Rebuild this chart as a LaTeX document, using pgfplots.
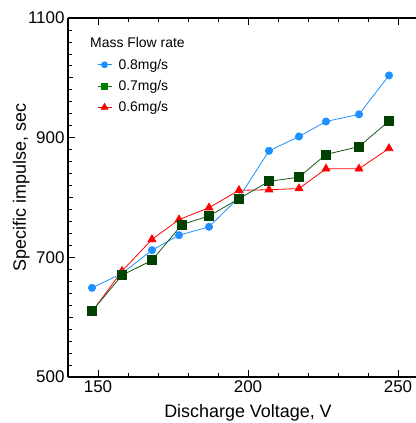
\documentclass[border=0pt]{standalone}
\usepackage{fontspec}
\setmainfont{Liberation Sans}
\usepackage{pgfplots}
\pgfplotsset{compat=1.18}

\definecolor{cblue}{RGB}{30,144,255}
\definecolor{cgreenfill}{RGB}{0,64,0}
\definecolor{cgreenline}{RGB}{20,90,20}
\definecolor{cgreenleg}{RGB}{0,128,0}
\definecolor{cred}{RGB}{255,0,0}

\begin{document}
\begin{tikzpicture}
\begin{axis}[
    at={(0,0)}, anchor=south west,
    scale only axis,
    width=360bp, height=359bp,
    xmin=140, xmax=260,
    ymin=500, ymax=1100,
    axis x line*=box,
    axis y line*=left,
    axis line style={line width=1.2bp},
    xtick={150,200,250},
    minor x tick num=4,
    ytick={500,700,900,1100},
    minor y tick num=9,
    extra y ticks={600,800,1000},
    extra y tick labels={},
    extra y tick style={major tick length=5.5bp},
    major tick length=7bp,
    minor tick length=4bp,
    tick style={black, line width=0.8bp},
    tick align=inside,
    ticklabel style={font=\fontsize{17}{19}\selectfont},
    /pgf/number format/assume math mode=true,
    /pgf/number format/1000 sep={},
    xlabel={Discharge Voltage, V},
    ylabel={Specific impulse, sec},
    every axis x label/.style={at={(axis description cs:0.5,-0.1142)}, anchor=base, font=\fontsize{18}{20}\selectfont},
    every axis y label/.style={at={(axis description cs:-0.117,0.528)}, anchor=base, rotate=90, font=\fontsize{18}{20}\selectfont},
    legend style={
        at={(axis description cs:0.072,0.8975)},
        anchor=north west,
        draw=none, fill=none,
        font=\fontsize{14}{16}\selectfont,
        row sep=5.7bp,
        /tikz/every odd column/.append style={column sep=4.7bp},
    },
    legend cell align=left,
    legend image code/.code={
        \draw[mark repeat=2,mark phase=2,#1]
            plot coordinates {(0bp,0bp) (7bp,0bp) (14bp,0bp)};
    },
]
\addlegendimage{cblue, line width=0.8bp, mark=*, mark size=3bp, mark options={fill=cblue, draw=cblue}}
\addlegendentry{0.8mg/s}
\addlegendimage{cgreenleg, line width=0.8bp, mark=square*, mark size=3bp, mark options={fill=cgreenleg, draw=cgreenleg}}
\addlegendentry{0.7mg/s}
\addlegendimage{cred, line width=0.8bp, mark=triangle*, mark size=3.8bp, mark options={fill=cred, draw=cred}}
\addlegendentry{0.6mg/s}

% 0.6 mg/s
\addplot[forget plot, cred, line width=0.8bp, mark=triangle*, mark size=4.5bp, mark options={fill=cred, draw=cred}]
coordinates {(148,609) (158,677) (168,730) (177,763) (187,783) (197,812) (207,813) (217,815) (226,848) (237,848) (247,882)};
% 0.8 mg/s
\addplot[forget plot, cblue, line width=0.8bp, mark=*, mark size=3.6bp, mark options={fill=cblue, draw=cblue}]
coordinates {(148,649) (158,673) (168,712) (177,737) (187,751) (197,800) (207,878) (217,902) (226,927) (237,939) (247,1004)};
% 0.7 mg/s
\addplot[forget plot, cgreenline, line width=0.8bp, mark=square*, mark size=4.5bp, mark options={fill=cgreenfill, draw=cgreenfill}]
coordinates {(148,610) (158,670) (168,695) (178,755) (187,769) (197,798) (207,827) (217,834) (226,872) (237,885) (247,928)};

\node[anchor=base west, font=\fontsize{14}{16}\selectfont, inner sep=0pt] at (axis description cs:0.061,0.919) {Mass Flow rate};
\end{axis}
\pgfresetboundingbox
\path[use as bounding box] (-68bp,-46bp) rectangle (348bp,377bp);
\end{tikzpicture}
\end{document}
